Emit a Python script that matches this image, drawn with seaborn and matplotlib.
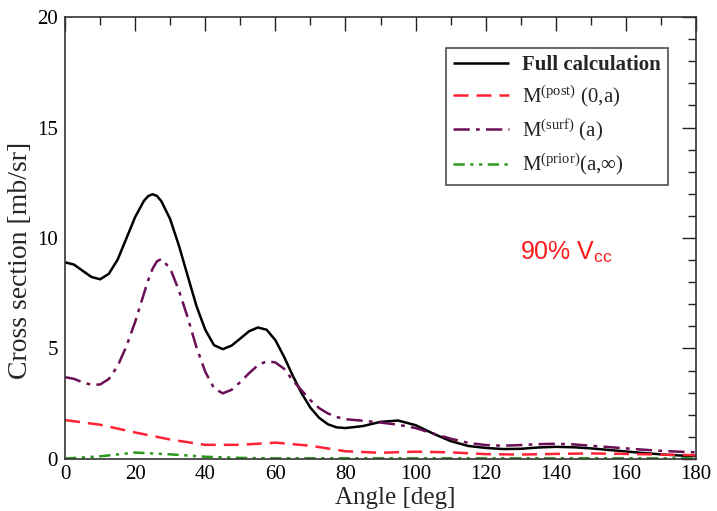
import numpy as np
import pandas as pd
import matplotlib
matplotlib.use("Agg")
import matplotlib.pyplot as plt
import seaborn as sns
from matplotlib.ticker import MultipleLocator

# ---- data ----
angle = [0, 2.5, 5, 7.5, 10, 12.5, 15, 17.5, 20, 22.5, 23.75, 25, 26.25, 27.5, 30,
         32.5, 35, 37.5, 40, 42.5, 45, 47.5, 50, 52.5, 55, 57.5, 60, 62.5, 65, 67.5,
         70, 72.5, 75, 77.5, 80, 85, 90, 95, 100, 105, 110, 115, 120, 125, 130, 135,
         140, 145, 150, 155, 160, 165, 170, 175, 180]
full_calc = [8.90, 8.80, 8.52, 8.24, 8.13, 8.38, 9.02, 9.98, 10.95, 11.68, 11.9, 11.98,
             11.9, 11.66, 10.85, 9.65, 8.28, 6.92, 5.85, 5.15, 4.97, 5.13, 5.45, 5.78,
             5.95, 5.85, 5.38, 4.62, 3.76, 2.97, 2.32, 1.86, 1.57, 1.43, 1.40, 1.49,
             1.68, 1.74, 1.53, 1.15, 0.81, 0.59, 0.5, 0.45, 0.46, 0.52, 0.55, 0.53,
             0.48, 0.41, 0.34, 0.27, 0.21, 0.16, 0.13]
m_surf = [3.70, 3.63, 3.47, 3.36, 3.37, 3.62, 4.2, 5.1, 6.2, 7.48, 8.1, 8.62, 8.95,
          9.05, 8.62, 7.62, 6.4, 5.05, 3.95, 3.2, 2.97, 3.13, 3.48, 3.88, 4.24, 4.42,
          4.37, 4.08, 3.55, 3.1, 2.66, 2.3, 2.06, 1.9, 1.8, 1.73, 1.65, 1.55, 1.4,
          1.15, 0.92, 0.73, 0.63, 0.6, 0.63, 0.67, 0.69, 0.66, 0.6, 0.54, 0.48, 0.42,
          0.37, 0.33, 0.30]

angle_coarse = [0, 10, 20, 30, 40, 50, 60, 70, 80, 90, 100, 110, 120, 130, 140, 150,
                160, 170, 180]
m_post = [1.76, 1.55, 1.2, 0.88, 0.64, 0.64, 0.74, 0.6, 0.35, 0.28, 0.33, 0.3, 0.22,
          0.2, 0.23, 0.25, 0.23, 0.2, 0.17]
m_prior = [0.02, 0.12, 0.29, 0.21, 0.1, 0.05, 0.03, 0.03, 0.03, 0.03, 0.03, 0.03,
           0.03, 0.03, 0.03, 0.03, 0.03, 0.03, 0.03]

labels = ["Full calculation",
          r"$\mathregular{M^{(post)}}$ (0,a)",
          r"$\mathregular{M^{(surf)}}$ (a)",
          r"$\mathregular{M^{(prior)}}$(a,∞)"]
x_ticks = [0, 20, 40, 60, 80, 100, 120, 140, 160, 180]
y_ticks = [0, 5, 10, 15, 20]

# ---- style ----
sns.set_theme(style="white")
plt.rcParams["font.family"] = ["Liberation Serif", "DejaVu Serif"]
plt.rcParams["mathtext.fontset"] = "custom"
plt.rcParams["mathtext.rm"] = "Liberation Serif"
plt.rcParams["mathtext.it"] = "Liberation Serif:italic"
plt.rcParams["mathtext.bf"] = "Liberation Serif:bold"

fig = plt.figure(figsize=(7.17, 5.11), dpi=100)
ax = fig.add_axes([0.0907, 0.1018, 0.8800, 0.8649])

lw = 1.8
series = [
    (angle, full_calc, "black", None),
    (angle_coarse, m_post, "#ff2233", (6, 3.2)),
    (angle, m_surf, "#6a0f55", (6.5, 2.5, 1.5, 2.5)),
    (angle_coarse, m_prior, "#2a9a1a", (4.5, 2.2, 1.3, 2.2, 1.3, 2.2)),
]
handles = []
for (xs, ys, col, dash), lab in zip(series, labels):
    df = pd.DataFrame({"x": xs, "y": ys})
    sns.lineplot(data=df, x="x", y="y", ax=ax, color=col, linewidth=lw,
                 estimator=None, sort=False)
    ln = ax.lines[-1]
    if dash is not None:
        ln.set_dashes(dash)
    ln.set_solid_capstyle("butt")
    ln.set_dash_capstyle("butt")
    ln.set_solid_joinstyle("round")
    handles.append(ln)

ax.set_xlim(0, 180)
ax.set_ylim(0, 20)
ax.set_xticks(x_ticks)
ax.set_yticks(y_ticks)
ax.xaxis.set_minor_locator(MultipleLocator(10))
ax.yaxis.set_minor_locator(MultipleLocator(1))
ax.tick_params(which="both", direction="in", top=True, right=True,
               colors="#222222", labelcolor="black", labelsize=15, width=1.0)
ax.tick_params(which="major", length=10)
ax.tick_params(which="minor", length=5.5)
ax.tick_params(axis="x", pad=4)
ax.tick_params(axis="y", pad=5)
for s in ax.spines.values():
    s.set_color("#333333")
    s.set_linewidth(1.2)

ax.set_xlabel("Angle [deg]", fontsize=18)
ax.set_ylabel("Cross section [mb/sr]", fontsize=20)
ax.xaxis.set_label_coords(0.523, -0.063)
ax.yaxis.set_label_coords(-0.05, 0.45)

leg = ax.legend(handles, labels, loc="upper right", bbox_to_anchor=(0.9556, 0.93),
                borderaxespad=0, fontsize=15, frameon=True, fancybox=False,
                edgecolor="#222222", handlelength=2.7, labelspacing=0.4,
                handletextpad=0.6, borderpad=0.35)
leg.get_frame().set_linewidth(1.2)
leg.get_texts()[0].set_fontweight("bold")

ax.text(129.7, 9.05, r"90% V$_{\mathregular{cc}}$", color="#ff1a1a", fontsize=18,
        family=["Liberation Sans", "DejaVu Sans"], va="baseline", ha="left")

fig.savefig("out.png", dpi=100)
